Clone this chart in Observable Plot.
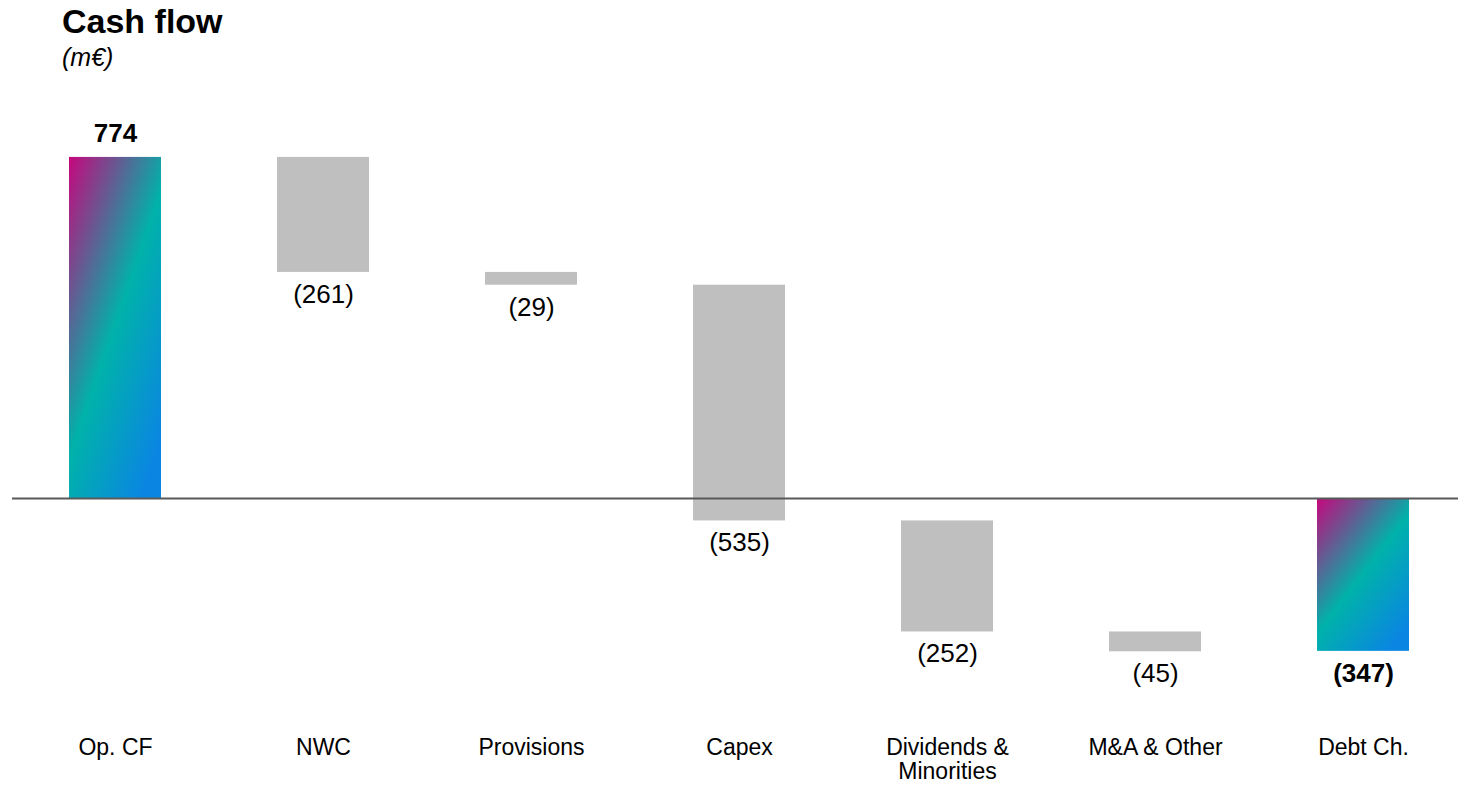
<!DOCTYPE html>
<html>
<head>
<meta charset="utf-8">
<script src="https://cdn.jsdelivr.net/npm/d3@7"></script>
<script src="https://cdn.jsdelivr.net/npm/@observablehq/plot@0.6"></script>
<style>
  html, body { margin: 0; padding: 0; background: #fff; }
  body { font-family: "Liberation Sans", Arial, sans-serif; color: #000; width: 1458px; }
  #header { position: relative; height: 80px; }
  #title { position: absolute; left: 62px; top: 3px; font-size: 34px; line-height: 36px; font-weight: bold; }
  #subtitle { position: absolute; left: 62px; top: 43px; font-size: 25px; line-height: 28px; font-style: italic; }
  #chart svg { display: block; }
</style>
</head>
<body>
<div id="header">
  <div id="title">Cash flow</div>
  <div id="subtitle">(m€)</div>
</div>
<div id="chart"></div>
<script>
// Cash flow bridge, in millions of euros
const categories = ["Op. CF", "NWC", "Provisions", "Capex", "Dividends &\nMinorities", "M&A & Other", "Debt Ch."];
const values = [774, -261, -29, -535, -252, -45, -347];
const kinds = ["total", "step", "step", "step", "step", "step", "total"];

// Build the waterfall: totals start at zero, steps start where the previous bar ended
let running = 0;
const rows = categories.map((cat, i) => {
  const v = values[i];
  let start, end;
  if (kinds[i] === "total") {
    start = 0; end = v; running = v;
  } else {
    start = running; end = running + v; running = end;
  }
  return {
    cat, value: v, kind: kinds[i], start, end,
    low: Math.min(start, end), high: Math.max(start, end),
    label: v < 0 ? `(${Math.abs(v)})` : `${v}`
  };
});
const totals = rows.filter(d => d.kind === "total");
const steps = rows.filter(d => d.kind === "step");

const font = "'Liberation Sans', Arial, sans-serif";

// value label: above the bar when positive, below it when negative
const valueLabel = (data, weight) => [
  Plot.text(data.filter(d => d.value >= 0), {
    x: "cat", y: "high", text: "label", lineAnchor: "bottom", dy: -15,
    fontSize: 26, fontWeight: weight, fill: "#000"
  }),
  Plot.text(data.filter(d => d.value < 0), {
    x: "cat", y: "low", text: "label", lineAnchor: "top", dy: 12,
    fontSize: 26, fontWeight: weight, fill: "#000"
  })
];

const chart = Plot.plot({
  width: 1458,
  height: 706,
  marginTop: 0,
  marginLeft: 12,
  marginRight: 0,
  marginBottom: 57,
  style: { fontFamily: font, fontSize: "23px", color: "#000", background: "#fff" },
  x: { type: "band", domain: categories, range: [12, 1466], paddingInner: 0.56, paddingOuter: 0.275 },
  y: { domain: [-700, 900], range: [726.4, 21.4], axis: null },
  marks: [
    Plot.barY(steps, { x: "cat", y1: "start", y2: "end", fill: "#bfbfbf" }),
    Plot.barY(totals, { x: "cat", y1: "start", y2: "end", fill: "url(#cfGrad)" }),
    Plot.ruleY([0], { stroke: "#595959", strokeWidth: 2 }),
    ...valueLabel(steps, "normal"),
    ...valueLabel(totals, "bold"),
    Plot.axisX({ anchor: "bottom", tickSize: 0, tickPadding: 8, fontSize: 23, lineHeight: 1.05, label: null })
  ]
});

// Diagonal magenta → teal → blue fill for the total bars
const defs = d3.select(chart).insert("defs", ":first-child");
const grad = defs.append("linearGradient")
  .attr("id", "cfGrad")
  .attr("gradientUnits", "objectBoundingBox")
  .attr("x1", 0).attr("y1", 0).attr("x2", 0.78).attr("y2", 1);
grad.append("stop").attr("offset", 0).attr("stop-color", "#c6077d");
grad.append("stop").attr("offset", 0.55).attr("stop-color", "#00b2aa");
grad.append("stop").attr("offset", 1).attr("stop-color", "#0a86e2");

document.getElementById("chart").appendChild(chart);
</script>
</body>
</html>
